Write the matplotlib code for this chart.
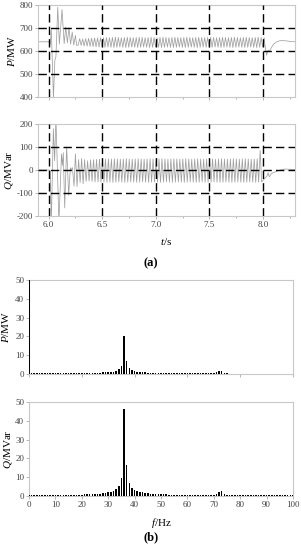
import matplotlib
matplotlib.use('Agg')
import matplotlib.pyplot as plt
import numpy as np

plt.rcParams['font.family'] = 'Liberation Serif'
plt.rcParams['mathtext.fontset'] = 'custom'
plt.rcParams['mathtext.rm'] = 'Liberation Serif'
plt.rcParams['mathtext.it'] = 'Liberation Serif:italic'
plt.rcParams['axes.unicode_minus'] = False

############### time domain data ###############
# transient breakpoints after the fault at 6.0 s
p_tr_t = [5.90, 6.00, 6.015, 6.025, 6.045, 6.058, 6.068, 6.085, 6.10, 6.125, 6.145,
          6.16, 6.175, 6.19, 6.205, 6.22, 6.235, 6.25, 6.262]
p_tr_v = [640, 640, 628, 692, 395, 560, 575, 790, 630, 780, 632,
          705, 636, 702, 630, 682, 626, 668, 624]

# steady oscillation extrema (36 Hz, peak of the spectrum)
osc_freq = 36.0
p_osc_t0 = 6.276
p_osc_hi = [654, 652, 654, 655, 656, 657, 657, 658, 658, 659,
            658, 659, 660, 659, 658, 659, 660, 659, 658, 659,
            660, 659, 658, 659, 660, 659, 658, 659, 660, 659,
            658, 659, 660, 659, 658, 659, 660, 659, 658, 659,
            660, 659, 658, 659, 660, 659, 658, 659, 660, 659,
            658, 659, 660, 659, 658, 659, 660, 659, 658, 659,
            660, 659, 658]
p_osc_lo = [626, 624, 622, 621, 620, 619, 618, 617, 617, 616,
            617, 616, 615, 616, 617, 616, 615, 616, 617, 616,
            615, 616, 617, 616, 615, 616, 617, 616, 615, 616,
            617, 616, 615, 616, 617, 616, 615, 616, 617, 616,
            615, 616, 617, 616, 615, 616, 617, 616, 615, 616,
            617, 616, 615, 616, 617, 616, 615, 616, 617, 616,
            615, 616, 617]

# recovery after clearing at 8.0 s
p_end_t = [8.015, 8.035, 8.05, 8.06, 8.08, 8.10, 8.13, 8.16, 8.20, 8.25, 8.30]
p_end_v = [640, 582, 603, 598, 615, 630, 640, 645, 645, 642, 640]

q_tr_t = [5.90, 6.00, 6.015, 6.025, 6.044, 6.056, 6.068, 6.096, 6.12, 6.128, 6.137,
          6.15, 6.168, 6.187, 6.203, 6.21, 6.222, 6.237, 6.25, 6.265, 6.28,
          6.294, 6.308, 6.322]
q_tr_v = [0, 0, -5, -230, 180, 40, 230, -230, 70, 20, 75,
          -165, 100, -110, 10, 0, 10, -70, 70, -72, 45,
          -55, 50, -60]

q_osc_t0 = 6.336
q_osc_hi = [45, 40, 44, 45, 46, 47, 48, 48, 49, 48,
            49, 48, 47, 48, 49, 48, 47, 48, 49, 48,
            47, 48, 49, 48, 47, 48, 49, 48, 47, 48,
            49, 48, 47, 48, 49, 48, 47, 48, 49, 48,
            47, 48, 49, 48, 47, 48, 49, 48, 47, 48,
            49, 48, 47, 48, 49, 48, 47, 48, 49, 85]
q_osc_lo = [-50, -48, -50, -52, -52, -53, -53, -54, -53, -54,
            -53, -52, -53, -54, -53, -52, -53, -54, -53, -52,
            -53, -54, -53, -52, -53, -54, -53, -52, -53, -54,
            -53, -52, -53, -54, -53, -52, -53, -54, -53, -52,
            -53, -54, -53, -52, -53, -54, -53, -52, -53, -54,
            -53, -52, -53, -54, -53, -52, -53, -54, -53, -52]

q_end_t = [8.04, 8.05, 8.06, 8.08, 8.10, 8.13, 8.16, 8.20, 8.25, 8.30]
q_end_v = [-25, -12, -30, -16, -11, -6, -1, 4, 3, 2]

############### spectrum data, 0..100 Hz ###############
freq = list(range(0, 101))
p_spec = [640,
          0.3, 0.3, 0.3, 0.3, 0.3, 0.3, 0.3, 0.3, 0.3, 0.3,
          0.3, 0.3, 0.3, 0.3, 0.3, 0.35, 0.35, 0.4, 0.4, 0.4,
          0.45, 0.5, 0.5, 0.55, 0.6, 0.65, 0.7, 0.8, 0.85, 0.9,
          1.0, 1.3, 1.6, 2.5, 4.0, 20.0, 7.0, 3.0, 2.0, 1.5,
          1.2, 1.0, 0.9, 0.8, 0.7, 0.6, 0.55, 0.5, 0.5, 0.45,
          0.4, 0.4, 0.4, 0.4, 0.4, 0.35, 0.35, 0.35, 0.35, 0.35,
          0.35, 0.35, 0.35, 0.35, 0.35, 0.35, 0.4, 0.4, 0.45, 0.5,
          0.8, 1.6, 1.7, 0.7, 0.3, 0.25, 0.25, 0.25, 0.25, 0.25,
          0.25, 0.25, 0.25, 0.25, 0.25, 0.25, 0.25, 0.25, 0.25, 0.25,
          0.25, 0.25, 0.25, 0.25, 0.25, 0.25, 0.25, 0.25, 0.25, 0.25]
q_spec = [0.6,
          0.6, 0.6, 0.6, 0.6, 0.6, 0.6, 0.6, 0.6, 0.6, 0.6,
          0.6, 0.65, 0.65, 0.65, 0.65, 0.7, 0.7, 0.7, 0.75, 0.75,
          0.8, 0.85, 0.9, 1.0, 1.1, 1.2, 1.3, 1.5, 1.7, 2.0,
          2.3, 2.8, 3.7, 5.3, 9.5, 46.5, 16.5, 7.0, 4.5, 3.3,
          2.6, 2.2, 1.9, 1.6, 1.4, 1.2, 1.1, 1.0, 0.9, 0.85,
          0.8, 0.8, 0.75, 0.7, 0.7, 0.65, 0.65, 0.6, 0.6, 0.6,
          0.55, 0.55, 0.55, 0.5, 0.5, 0.5, 0.5, 0.5, 0.55, 0.6,
          1.0, 2.0, 2.5, 1.0, 0.5, 0.4, 0.4, 0.4, 0.4, 0.4,
          0.4, 0.4, 0.35, 0.35, 0.35, 0.35, 0.35, 0.35, 0.35, 0.35,
          0.35, 0.35, 0.3, 0.3, 0.3, 0.3, 0.3, 0.3, 0.3, 0.3]


def join_osc(t0, first, second):
	# interleave the extrema, half a period apart
	v = np.column_stack([first, second]).ravel()
	t = t0 + np.arange(len(v)) / (2.0 * osc_freq)
	return t, v


pt, pv = join_osc(p_osc_t0, p_osc_lo, p_osc_hi)
p_t = np.concatenate([p_tr_t, pt, p_end_t])
p_v = np.concatenate([p_tr_v, pv, p_end_v])

qt, qv = join_osc(q_osc_t0, q_osc_hi, q_osc_lo)
q_t = np.concatenate([q_tr_t, qt, q_end_t])
q_v = np.concatenate([q_tr_v, qv, q_end_v])

frame_col = '#c8c8c8'
tick_col = '#444444'
dash = (0, (6, 3))


def style_axes(ax):
	for s in ax.spines.values():
		s.set_color(frame_col)
		s.set_linewidth(0.8)
	ax.tick_params(which='both', direction='out', color='#999999', labelcolor=tick_col,
	               labelsize=6.5, length=2, width=0.5, pad=1.5)
	ax.tick_params(which='minor', length=1.5)


fig = plt.figure(figsize=(3.01, 5.5), dpi=100)

###############P time#############
ax1 = fig.add_axes([0.126, 0.8236, 0.854, 0.1673])
ax1.plot(p_t, p_v, color='#a0a0a0', lw=0.55)
ax1.set_xlim(5.9, 8.3)
ax1.set_ylim(400, 800)
ax1.set_yticks([400, 500, 600, 700, 800])
ax1.set_xticks([6.0, 6.5, 7.0, 7.5, 8.0])
ax1.set_xticks([6.25, 6.75, 7.25, 7.75, 8.25], minor=True)
ax1.set_xticklabels([])
for y in [500, 600, 700]:
	ax1.axhline(y, color='black', lw=1.0, ls=dash, zorder=5)
for x in [6.0, 6.5, 7.0, 7.5, 8.0]:
	ax1.axvline(x, color='black', lw=1.0, ls=dash, zorder=5)
ax1.set_ylabel(r'$P$/MW', fontsize=8, labelpad=2)
style_axes(ax1)

###############Q time#############
ax2 = fig.add_axes([0.126, 0.6073, 0.854, 0.1673])
ax2.plot(q_t, q_v, color='#a0a0a0', lw=0.55)
ax2.set_xlim(5.9, 8.3)
ax2.set_ylim(-200, 200)
ax2.set_yticks([-200, -100, 0, 100, 200])
ax2.set_xticks([6.0, 6.5, 7.0, 7.5, 8.0])
ax2.set_xticks([6.25, 6.75, 7.25, 7.75, 8.25], minor=True)
ax2.set_xticklabels(['6.0', '6.5', '7.0', '7.5', '8.0'])
for y in [-100, 0, 100]:
	ax2.axhline(y, color='black', lw=1.0, ls=dash, zorder=5)
for x in [6.0, 6.5, 7.0, 7.5, 8.0]:
	ax2.axvline(x, color='black', lw=1.0, ls=dash, zorder=5)
ax2.set_ylabel(r'$Q$/MVar', fontsize=8, labelpad=1)
ax2.set_xlabel(r'$t$/s', fontsize=8, labelpad=5)
style_axes(ax2)

fig.text(0.502, 0.521, '(a)', fontsize=9, fontweight='bold', ha='center', va='center')

###############P spectrum#############
ax3 = fig.add_axes([0.0963, 0.32, 0.877, 0.1709])
ax3.bar(freq, p_spec, width=0.6, color='black', zorder=3)
ax3.set_xlim(0, 100)
ax3.set_ylim(0, 50)
ax3.set_yticks([0, 10, 20, 30, 40, 50])
ax3.set_xticks([0, 20, 40, 60, 80, 100])
ax3.set_xticklabels([])
ax3.set_ylabel(r'$P$/MW', fontsize=8, labelpad=3)
style_axes(ax3)

###############Q spectrum#############
ax4 = fig.add_axes([0.0963, 0.0982, 0.877, 0.1709])
ax4.bar(freq, q_spec, width=0.6, color='black', zorder=3)
ax4.set_xlim(0, 100)
ax4.set_ylim(0, 50)
ax4.set_yticks([0, 10, 20, 30, 40, 50])
ax4.set_xticks(list(range(0, 101, 10)))
ax4.set_ylabel(r'$Q$/MVar', fontsize=8, labelpad=1)
ax4.set_xlabel(r'$f$/Hz', fontsize=8, labelpad=5)
style_axes(ax4)

fig.text(0.502, 0.024, '(b)', fontsize=9, fontweight='bold', ha='center', va='center')

plt.savefig('out.png', dpi=100)
